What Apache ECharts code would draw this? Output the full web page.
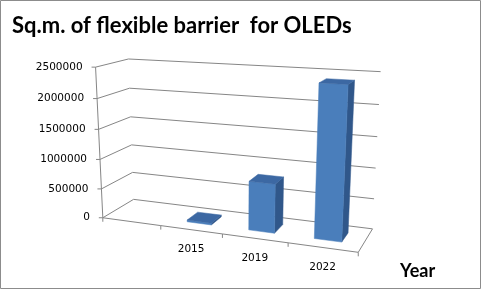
<!DOCTYPE html>
<html><head><meta charset="utf-8">
<script src="https://cdn.jsdelivr.net/npm/echarts@6/dist/echarts.min.js"></script>
<style>html,body{margin:0;padding:0;background:#fff}#c{width:481px;height:289px}</style>
</head><body><div id="c"></div>
<script>
// ---- data ----
const categories = ['', '2015', '2019', '2022'];
const values = [null, 30000, 800000, 2400000];
const yTicks = [0, 500000, 1000000, 1500000, 2000000, 2500000];
const yTickLabels = ['0', '500000', '1000000', '1500000', '2000000', '2500000'];
const titleText = 'Sq.m. of flexible barrier  for OLEDs';
const xAxisName = 'Year';
const yMin = 0, yMax = 2500000, yInterval = 500000;

// ---- 3D view calibration (layout only): world (X slots, Y axis fraction, Z depth) -> screen ----
const calib = [
  [0,0,0,102,218],[0,1,0,96,67],[0,0,1,134,199],[0,1,1,128,59],
  [4,0,0,359,252],[4,0,1,372,229],[4,1,1,380,72],
  [1,0,0,162,226],[2,0,0,222,234],[3,0,0,287,242.5],
  [4,0.8,1,379,104],[4,0.6,1,378,137],[4,0.4,1,376,168],[4,0.2,1,374,199]
];
const BAR_HALF = 0.2, Z0 = 0.3, Z1 = 0.7;
const LINE = '#868686';
const C_FRONT = '#4A7EBB', C_TOP = '#3C68A3', C_SIDE = '#30578A';

function solveDLT(pts){
  const A=[], b=[];
  for (const [X,Y,Z,u,v] of pts){
    A.push([X,Y,Z,1,0,0,0,0,-u*X,-u*Y,-u*Z]); b.push(u);
    A.push([0,0,0,0,X,Y,Z,1,-v*X,-v*Y,-v*Z]); b.push(v);
  }
  const n=11; const M=[]; for(let i=0;i<n;i++) M.push(new Array(n+1).fill(0));
  for(let r=0;r<A.length;r++) for(let i=0;i<n;i++){ for(let j=0;j<n;j++) M[i][j]+=A[r][i]*A[r][j]; M[i][n]+=A[r][i]*b[r]; }
  for(let c=0;c<n;c++){
    let p=c; for(let r=c+1;r<n;r++) if(Math.abs(M[r][c])>Math.abs(M[p][c])) p=r;
    const t=M[c]; M[c]=M[p]; M[p]=t;
    for(let r=0;r<n;r++){ if(r===c) continue; const f=M[r][c]/M[c][c]; for(let j=c;j<=n;j++) M[r][j]-=f*M[c][j]; }
  }
  return M.map((row,i)=>row[n]/row[i]);
}
const P = solveDLT(calib);
function proj(X,Y,Z){
  const w = P[8]*X+P[9]*Y+P[10]*Z+1;
  return [(P[0]*X+P[1]*Y+P[2]*Z+P[3])/w, (P[4]*X+P[5]*Y+P[6]*Z+P[7])/w];
}
function toWorld(params, api, cat, val){
  const cs = params.coordSys;
  const band = api.size([1,0])[0];
  const c = api.coord([cat, val]);
  return { X:(c[0]-cs.x)/band, Y:(cs.y+cs.height-c[1])/cs.height, slots: cs.width/band };
}
function line(a,b){ return {type:'line', shape:{x1:a[0],y1:a[1],x2:b[0],y2:b[1]}, style:{stroke:LINE,lineWidth:1}}; }
function poly(pts, fill){ return {type:'polygon', shape:{points:pts}, style:{fill:fill, stroke:fill, lineWidth:0.5}}; }

const chart = echarts.init(document.getElementById('c'));
chart.setOption({
  animation:false,
  backgroundColor:'#fff',
  grid:{left:0,right:0,top:0,bottom:0,show:false},
  xAxis:{type:'category', data:categories, show:false},
  yAxis:{type:'value', min:yMin, max:yMax, interval:yInterval, show:false},
  graphic:[
    {type:'rect', shape:{x:0.5,y:0.5,width:480,height:288}, style:{fill:'none',stroke:'#8c8c8c',lineWidth:1}},
    {type:'text', left:12, top:15, style:{text:titleText, font:'bold 22px Lato', fill:'#000'}},
    {type:'text', left:400, top:262, style:{text:xAxisName, font:'bold 18px Lato', fill:'#000'}}
  ],
  series:[
    { type:'custom', z:1, silent:true,
      data: yTicks.map((t,i)=>[0,t,i]),
      renderItem:function(params, api){
        const w = toWorld(params, api, 0, api.value(1));
        const a = proj(0,w.Y,0), b = proj(0,w.Y,1), c = proj(w.slots,w.Y,1);
        return {type:'group', children:[
          {type:'polyline', shape:{points:[a,b,c]}, style:{stroke:LINE,fill:'none',lineWidth:1}},
          line([a[0]-4,a[1]], a),
          {type:'text', style:{text:yTickLabels[api.value(2)], x:a[0]-13, y:a[1], align:'right', verticalAlign:'middle', font:'10.5px "DejaVu Sans"', fill:'#000'}}
        ]};
      }
    },
    { type:'custom', z:2, silent:true,
      data: categories.map((c,i)=>[i,0]),
      renderItem:function(params, api){
        const i = api.value(0);
        const w = toWorld(params, api, i, 0);
        const x0 = w.X-0.5, x1 = w.X+0.5;
        const a = proj(x0,0,0), b = proj(x1,0,0), m = proj(w.X,0,0);
        const ch = [line(a,b), line(a,[a[0],a[1]+4])];
        if (i === categories.length-1){ ch.push(line(b,[b[0],b[1]+4])); ch.push(line(b, proj(x1,0,1))); }
        if (i === 0){ ch.push(line(a, proj(0,1,0))); }
        ch.push({type:'text', style:{text:categories[i], x:m[0], y:m[1]+14, align:'center', verticalAlign:'top', font:'10.5px "DejaVu Sans"', fill:'#000'}});
        return {type:'group', children:ch};
      }
    },
    { type:'custom', z:3, silent:true,
      data: values.map((v,i)=>[i,v]),
      renderItem:function(params, api){
        const v = api.value(1);
        if (v == null || isNaN(v)) return null;
        const i = api.value(0);
        const w = toWorld(params, api, i, v);
        const x0=w.X-BAR_HALF, x1=w.X+BAR_HALF, y1=w.Y;
        const front=[proj(x0,0,Z0),proj(x1,0,Z0),proj(x1,y1,Z0),proj(x0,y1,Z0)];
        const side=[proj(x1,0,Z0),proj(x1,0,Z1),proj(x1,y1,Z1),proj(x1,y1,Z0)];
        const top=[proj(x0,y1,Z0),proj(x1,y1,Z0),proj(x1,y1,Z1),proj(x0,y1,Z1)];
        return {type:'group', children:[poly(side,C_SIDE), poly(front,C_FRONT), poly(top,C_TOP)]};
      }
    }
  ]
});
</script></body></html>
